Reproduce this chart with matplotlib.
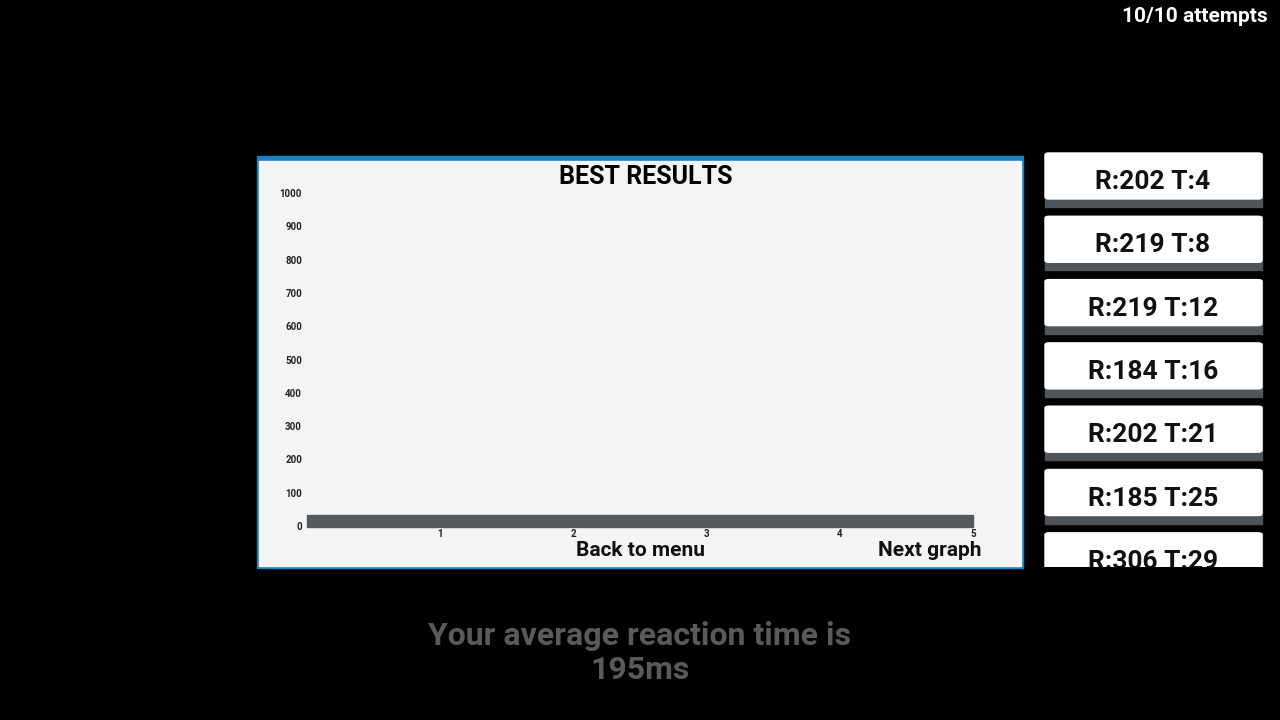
import matplotlib.pyplot as plt
from matplotlib.patches import FancyBboxPatch, Rectangle

plt.rcParams['font.family'] = ['Roboto', 'DejaVu Sans']

# data
attempts = [1, 2, 3, 4, 5]
best_times = [185, 185, 203, 203, 205]
y_ticks = [0, 100, 200, 300, 400, 500, 600, 700, 800, 900, 1000]
results = ["R:202 T:4", "R:219 T:8", "R:219 T:12", "R:184 T:16",
           "R:202 T:21", "R:185 T:25", "R:306 T:29"]

W, H = 1280, 720
fig = plt.figure(figsize=(12.8, 7.2), dpi=100, facecolor='black')


def px(x, y, w, h):
    return (x / W, 1 - (y + h) / H, w / W, h / H)


def frect(x, y, w, h, **kw):
    l, b, ww, hh = px(x, y, w, h)
    p = Rectangle((l, b), ww, hh, transform=fig.transFigure, **kw)
    fig.add_artist(p)
    return p


# main panel
frect(257, 156, 766, 412, color='#1a80c4')
frect(259, 161, 762, 405, color='#f4f4f4')
fig.text(646 / W, 1 - 177 / H, "BEST RESULTS", ha='center', va='center',
         fontsize=18, fontweight='bold', color='black')

# result list
clip = Rectangle((0, 1 - 567 / H), 1, (567 - 150) / H, transform=fig.transFigure)
for i, r in enumerate(results):
    top = 153 + i * 63.3
    l, b, ww, hh = px(1045, top, 217, 54)
    bg = frect(1045, top, 217, 54, color='#50555a')
    bg.set_clip_path(clip)
    box = FancyBboxPatch((l, b + 8 / H), ww, hh - 8 / H, boxstyle='round,pad=0,rounding_size=0.003',
                         transform=fig.transFigure, color='white')
    fig.add_artist(box)
    box.set_clip_path(clip)
    t = fig.text((1045 + 108) / W, 1 - (top + 29) / H, r, ha='center', va='center',
                 fontsize=19, fontweight='bold', color='#111111')
    t.set_clip_path(clip)

# chart
frect(307, 515, 666, 12, color='#55595e')
ax = fig.add_axes(px(307, 194, 666, 327))
ax.set_facecolor('white')
ax.plot(attempts, best_times, color='#777777', lw=1.3, marker='o', ms=5.5,
        mfc='black', mec='black', clip_on=False)
ax.set_xlim(0, 5)
ax.set_ylim(0, 1000 * 327 / 333)
for s in ax.spines.values():
    s.set_color('#444444')
    s.set_linewidth(1)
ax.set_xticks(attempts)
ax.set_yticks([])
ax.tick_params(length=0)
ax.set_xticklabels([])
for a in attempts:
    fig.text((307 + a * 133.2) / W, 1 - 534 / H, str(a), ha='center', va='center',
             fontsize=7, fontweight='bold', color='#222222')
for v in y_ticks:
    fig.text(302 / W, 1 - (527 - v * 0.333) / H, str(v), ha='right', va='center',
             fontsize=7, fontweight='bold', color='#222222')

fig.text(640 / W, 1 - 551 / H, "Back to menu", ha='center', va='center',
         fontsize=15, fontweight='bold', color='#111111')
fig.text(930 / W, 1 - 551 / H, "Next graph", ha='center', va='center',
         fontsize=15, fontweight='bold', color='#111111')

fig.text(1268 / W, 1 - 17 / H, "10/10 attempts", ha='right', va='center',
         fontsize=15, fontweight='bold', color='white')
fig.text(640 / W, 1 - 653 / H, "Your average reaction time is\n195ms", ha='center',
         va='center', fontsize=23, fontweight='bold', color='#5a5a5a', linespacing=1.2)

fig.savefig('out.png', dpi=100, facecolor='black')
